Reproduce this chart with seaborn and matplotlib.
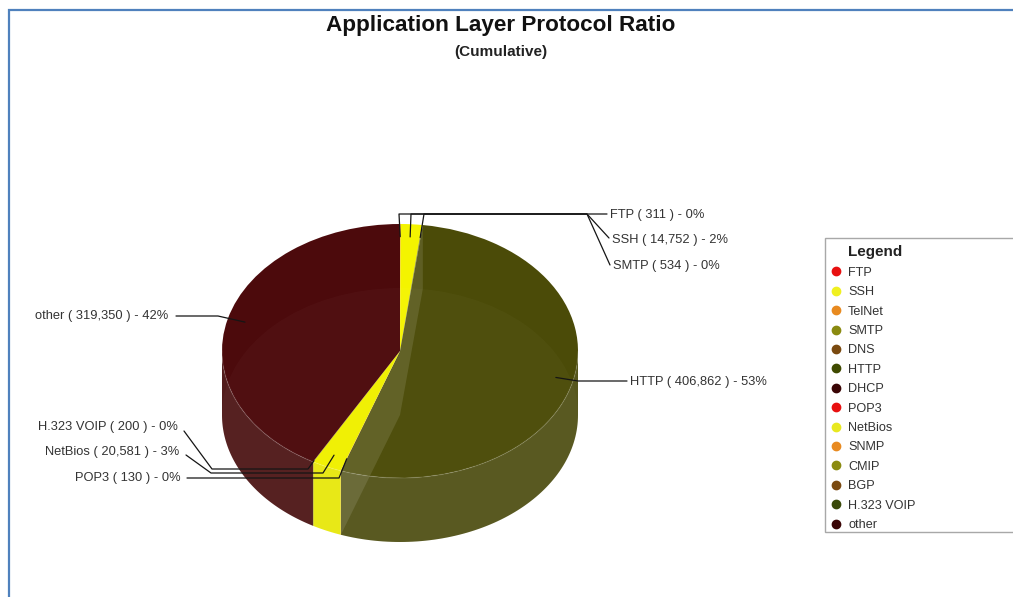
import numpy as np
import seaborn as sns
import matplotlib
matplotlib.use("Agg")
import matplotlib.pyplot as plt
from matplotlib.lines import Line2D
from matplotlib.patches import Ellipse, Rectangle

protocols = ["FTP", "SSH", "TelNet", "SMTP", "DNS", "HTTP", "DHCP", "POP3",
             "NetBios", "SNMP", "CMIP", "BGP", "H.323 VOIP", "other"]
packets = [311, 14752, 0, 534, 0, 406862, 0, 130, 20581, 0, 0, 0, 200, 319350]
slice_colors = ["#e81010", "#f4f400", "#e88a20", "#8a8a10", "#7a4a10", "#4b4b08", "#3a0505",
                "#e81010", "#f0f000", "#e88a20", "#8a8a10", "#7a4a10", "#4b4b08", "#4c0a0c"]
side_colors = ["#e83030", "#e8e818", "#e89a40", "#8f8f30", "#855a30", "#56561c", "#3a0505",
               "#e83030", "#e8e812", "#e89a40", "#8f8f30", "#855a30", "#56561c", "#521c1c"]
legend_colors = ["#e81010", "#f0f020", "#e88a20", "#8a8a10", "#7a4a10", "#3f4a00", "#3a0505",
                 "#e81010", "#e8e820", "#e88a20", "#8a8a10", "#7a4a10", "#3a4a0a", "#3a0505"]
# label, radius of leader start, waypoints in pixels, label anchor in pixels, ha
leaders = {
    "FTP": (0.90, [(399, 214), (607, 214)], (610, 215), "left"),
    "SSH": (0.90, [(411, 214), (587, 214), (609, 238)], (612, 240), "left"),
    "SMTP": (0.90, [(424, 214), (587, 214), (610, 265)], (613, 266), "left"),
    "HTTP": (0.90, [(578, 381), (627, 381)], (630, 382), "left"),
    "POP3": (0.90, [(339, 478), (187, 478)], (181, 478), "right"),
    "NetBios": (0.90, [(323, 473), (211, 473), (186, 455)], (179, 452), "right"),
    "H.323 VOIP": (0.99, [(308, 469), (212, 469), (184, 431)], (178, 427), "right"),
    "other": (0.90, [(218, 316), (176, 316)], (168, 316), "right"),
}

W, H = 1013, 597
CX, CY, RX, RY, DEPTH = 400, 351, 178, 127, 64

sns.set_theme(style="white")
plt.rcParams["font.family"] = ["Liberation Sans", "DejaVu Sans"]

fig = plt.figure(figsize=(W / 100, H / 100), dpi=100, facecolor="white")
ax = fig.add_axes([0, 0, 1, 1])
palette = sns.color_palette(slice_colors)
ax.pie(packets, colors=palette, startangle=90, counterclock=False, radius=1,
       wedgeprops={"linewidth": 0, "zorder": 3})
ax.set_aspect("auto")
ax.set_xlim(-CX / RX, (W - CX) / RX)
ax.set_ylim((CY - H) / RY, CY / RY)
ax.axis("off")

total = sum(packets)
edges = np.concatenate([[0], np.cumsum(packets)]) / total * 2 * np.pi
d = DEPTH / RY

# side wall of the visible front half
for i, col in enumerate(side_colors):
    a, b = max(edges[i], np.pi / 2), min(edges[i + 1], 3 * np.pi / 2)
    if b <= a:
        continue
    t = np.linspace(a, b, 80)
    xs = np.sin(t)
    ys = np.cos(t)
    ax.fill(np.r_[xs, xs[::-1]], np.r_[ys, ys[::-1] - d], color=col, lw=0, zorder=2)

# translucent ghost of the base and the inner walls
ax.add_patch(Ellipse((0, -d), 2, 2, fc="white", alpha=0.022, lw=0, zorder=4))
http_i = protocols.index("HTTP")
for ang in (edges[http_i], edges[http_i + 1]):
    s, c = np.sin(ang), np.cos(ang)
    ax.fill([0, s, s, 0], [0, c, c - d, -d], color="white", alpha=0.11, lw=0, zorder=4)
t = np.linspace(np.pi / 2, 3 * np.pi / 2, 200)
ax.plot(np.sin(t), np.cos(t), color="white", alpha=0.09, lw=1, zorder=4)

# overlay in pixel coordinates
ov = fig.add_axes([0, 0, 1, 1], facecolor="none")
ov.set_xlim(0, W)
ov.set_ylim(H, 0)
ov.axis("off")

ov.plot([9, 9, W], [H, 10, 10], color="#4f81bd", lw=1.6, solid_joinstyle="miter")
ov.text(501, 26, "Application Layer Protocol Ratio", ha="center", va="center",
        fontsize=16.2, fontweight="bold", color="#111111")
ov.text(501, 52, "(Cumulative)", ha="center", va="center",
        fontsize=11, fontweight="bold", color="#222222")

for name, (r, pts, anchor, ha) in leaders.items():
    i = protocols.index(name)
    mid = (edges[i] + edges[i + 1]) / 2
    start = (CX + r * RX * np.sin(mid), CY - r * RY * np.cos(mid))
    xs, ys = zip(*([start] + pts))
    ov.plot(xs, ys, color="#151515", lw=0.9, zorder=6)
    ov.text(anchor[0], anchor[1], f"{name} ( {packets[i]:,} ) - {packets[i] / total:.0%}",
            ha=ha, va="center", fontsize=9.3, color="#333333", zorder=6)

ov.add_patch(Rectangle((825, 238), 200, 294, fc="white", ec="#a8a8a8", lw=1, zorder=7))
handles = [Line2D([], [], ls="none", marker="o", ms=6, mfc=c, mec=c) for c in legend_colors]
leg = ov.legend(handles, protocols, title="Legend", loc="upper left",
                bbox_to_anchor=(825, 240, 180, 290), bbox_transform=ov.transData,
                mode="expand", borderaxespad=0, fontsize=9.1, labelspacing=0.587,
                handlelength=0.85, handletextpad=0.55, borderpad=0.42, alignment="left",
                frameon=False,
                title_fontproperties={"size": 11, "weight": "bold", "family": "Liberation Sans"})
leg.set_zorder(8)
leg.get_title().set_position((18, 0))
leg.get_title().set_color("#222222")
for txt in leg.get_texts():
    txt.set_color("#333333")

fig.savefig("out.png", dpi=100)
